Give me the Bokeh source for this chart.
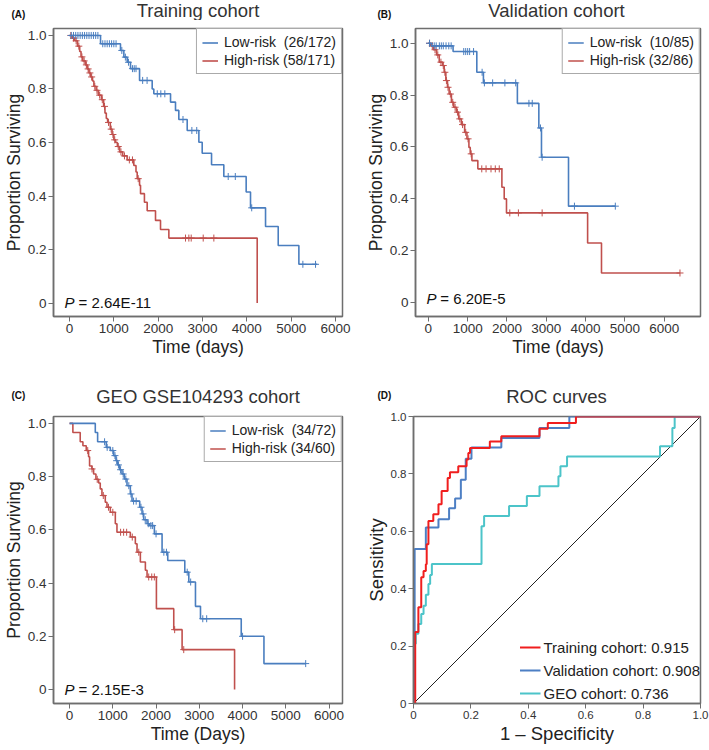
import numpy as np
from bokeh.plotting import figure
from bokeh.layouts import column, row
from bokeh.models import Label, Legend, LegendItem, FixedTicker, Range1d
from bokeh.embed import file_html
from bokeh.resources import INLINE

FONT = "Liberation Sans"
BLUE = "#4a7ebf"
RED = "#c0504d"

# ---------------- data ----------------
x_ticks_days = [0, 1000, 2000, 3000, 4000, 5000, 6000]
y_ticks = [0, 0.2, 0.4, 0.6, 0.8, 1.0]

# Panel A - Training cohort
t_A_low = [0, 700, 1150, 1226, 1301, 1376, 1580, 1865, 1902, 2279, 2391, 2466, 2655,
           2918, 2993, 3204, 3481, 3985, 4083, 4422, 4708, 5174, 5588]
s_A_low = [1.0, 0.969, 0.944, 0.919, 0.90, 0.876, 0.832, 0.80, 0.782, 0.751, 0.72, 0.686,
           0.645, 0.601, 0.56, 0.517, 0.473, 0.415, 0.356, 0.286, 0.215, 0.145, 0.145]
c_A_low = [40, 90, 140, 190, 240, 290, 340, 390, 440, 490, 540, 590, 640, 750, 800, 850, 900,
           950, 1000, 1050, 1180, 1260, 1330, 1420, 1460, 1500, 1650, 1750, 1980, 2060, 2150,
           2560, 2760, 2870, 3580, 3740, 4110, 5264, 5550]
t_A_high = [0, 60, 120, 180, 230, 260, 300, 360, 400, 440, 480, 520, 550, 600, 650, 720, 770,
            800, 830, 860, 920, 960, 1000, 1040, 1080, 1130, 1200, 1300, 1451, 1500, 1527,
            1580, 1602, 1690, 1752, 1940, 2053, 2241, 4234]
s_A_high = [1.0, 0.99, 0.98, 0.96, 0.94, 0.92, 0.905, 0.89, 0.875, 0.86, 0.845, 0.83, 0.81,
            0.795, 0.777, 0.76, 0.735, 0.71, 0.69, 0.675, 0.65, 0.63, 0.61, 0.60, 0.585, 0.565,
            0.55, 0.535, 0.514, 0.49, 0.465, 0.44, 0.409, 0.377, 0.345, 0.309, 0.275, 0.243, 0.0]
c_A_high = [30, 90, 150, 210, 280, 330, 380, 420, 460, 500, 570, 620, 680, 740, 790, 880, 940,
            980, 1020, 1100, 1160, 1240, 1350, 1420, 1550, 2617, 2692, 2745, 3016, 3256]

# Panel B - Validation cohort
t_B_low = [0, 80, 629, 1233, 1401, 2265, 2811, 2878, 3566, 4757]
s_B_low = [1.0, 0.99, 0.968, 0.888, 0.847, 0.768, 0.673, 0.56, 0.371, 0.371]
c_B_low = [30, 150, 200, 280, 330, 380, 450, 520, 580, 900, 950, 1000, 1050, 1150, 1368,
           1426, 1636, 1947, 2223, 2559, 2643, 2853, 2895, 3717, 4757]
t_B_high = [0, 60, 130, 210, 277, 361, 403, 445, 487, 529, 587, 646, 713, 772, 839, 923, 982,
            1032, 1066, 1108, 1259, 1871, 1930, 1988, 4052, 4405, 6402]
s_B_high = [1.0, 0.99, 0.975, 0.955, 0.927, 0.914, 0.888, 0.856, 0.83, 0.804, 0.772, 0.753,
            0.734, 0.708, 0.686, 0.656, 0.631, 0.598, 0.573, 0.547, 0.515, 0.444, 0.399, 0.345,
            0.229, 0.113, 0.113]
c_B_high = [30, 100, 170, 240, 320, 380, 420, 460, 500, 560, 620, 680, 740, 800, 870, 950,
            1010, 1090, 1359, 1468, 1594, 1703, 1804, 2072, 2291, 2895, 6402]

# Panel C - GEO GSE104293 cohort
t_C_low = [0, 595, 649, 849, 942, 1019, 1073, 1112, 1158, 1212, 1266, 1328, 1405, 1444, 1622,
           1676, 1714, 1792, 1846, 1961, 2139, 2270, 2664, 2757, 2911, 3027, 3969, 4494, 5459]
s_C_low = [1.0, 0.966, 0.931, 0.91, 0.898, 0.879, 0.86, 0.844, 0.826, 0.81, 0.791, 0.766,
           0.735, 0.708, 0.685, 0.66, 0.638, 0.623, 0.616, 0.585, 0.516, 0.485, 0.441, 0.404,
           0.3125, 0.266, 0.2, 0.0975, 0.0975]
c_C_low = [810, 870, 1000, 1050, 1090, 1130, 1180, 1240, 1300, 1370, 1420, 1480, 1540, 1650,
           1700, 1750, 1820, 1880, 1920, 2000, 2180, 2240, 2720, 2800, 3080, 3170, 4000, 5459]
t_C_high = [0, 77, 247, 309, 386, 440, 463, 517, 556, 610, 672, 710, 749, 826, 865, 942, 1058,
            1096, 1405, 1521, 1560, 1637, 1753, 1792, 2008, 2409, 2602, 3815]
s_C_high = [1.0, 0.966, 0.931, 0.916, 0.898, 0.875, 0.84, 0.829, 0.81, 0.79, 0.776, 0.754,
            0.729, 0.704, 0.685, 0.666, 0.623, 0.591, 0.573, 0.548, 0.516, 0.479, 0.448, 0.423,
            0.304, 0.225, 0.15, 0.0]
c_C_high = [420, 520, 640, 780, 900, 1000, 1180, 1250, 1320, 1450, 1600, 1830, 1900, 1960,
            2430, 2640]

# Panel D - ROC curves
roc_ticks = [0, 0.2, 0.4, 0.6, 0.8, 1.0]
fpr_train = [0, 0.006, 0.017, 0.027, 0.035, 0.043, 0.046, 0.052, 0.069, 0.087, 0.098, 0.119,
             0.127, 0.156, 0.185, 0.191, 0.197, 0.266, 0.306, 0.439, 0.468, 0.566, 1.0]
tpr_train = [0, 0.249, 0.335, 0.44, 0.462, 0.485, 0.555, 0.636, 0.659, 0.694, 0.74, 0.786,
             0.806, 0.827, 0.85, 0.873, 0.89, 0.913, 0.931, 0.957, 0.977, 1.0, 1.0]
fpr_valid = [0, 0.002, 0.004, 0.043, 0.087, 0.124, 0.145, 0.165, 0.182, 0.202, 0.306, 0.439,
             0.543, 1.0]
tpr_valid = [0, 0.21, 0.538, 0.613, 0.642, 0.68, 0.714, 0.78, 0.853, 0.892, 0.925, 0.96, 1.0,
             1.0]
fpr_geo = [0, 0.002, 0.008, 0.017, 0.027, 0.035, 0.043, 0.052, 0.058, 0.064, 0.237, 0.246,
           0.333, 0.395, 0.439, 0.505, 0.512, 0.535, 0.859, 0.902, 0.91, 1.0]
tpr_geo = [0, 0.208, 0.243, 0.277, 0.312, 0.341, 0.379, 0.416, 0.448, 0.486, 0.618, 0.653,
           0.688, 0.723, 0.757, 0.792, 0.827, 0.861, 0.896, 0.96, 1.0, 1.0]
diag = [0, 1]

titles = ["Training cohort", "Validation cohort", "GEO GSE104293 cohort", "ROC curves"]
tags = ["(A)", "(B)", "(C)", "(D)"]

# ---------------- layout constants (pixels) ----------------
W_LEFT, W_RIGHT = 362, 347
W_ALL = W_LEFT + W_RIGHT
BL_LEFT, BR_LEFT = 53, 20
BL_RIGHT, BR_RIGHT = 50, 9
STRIP1_H, STRIP2_H = 20, 42


def style_axes(p, label_size="13.5px", title_size="17.5px"):
    p.xgrid.visible = False
    p.ygrid.visible = False
    p.outline_line_color = "#6e6e6e"
    p.outline_line_width = 1.5
    p.outline_line_alpha = 1
    for ax in (p.xaxis[0], p.yaxis[0]):
        ax.axis_line_color = "#6e6e6e"
        ax.axis_line_width = 1.5
        ax.major_tick_line_color = "#6e6e6e"
        ax.major_tick_line_width = 1
        ax.major_tick_out = 5
        ax.major_tick_in = 0
        ax.minor_tick_line_color = None
        ax.major_label_text_font = FONT
        ax.major_label_text_font_size = label_size
        ax.major_label_text_color = "#333333"
        ax.major_label_standoff = 2
        ax.axis_label_text_font = FONT
        ax.axis_label_text_font_size = title_size
        ax.axis_label_text_font_style = "normal"
        ax.axis_label_text_color = "#222222"
        ax.axis_label_standoff = 1


def title_strip(height, items):
    """Full-width axis-less figure holding panel titles and tags.
    items: (text, x, y_from_top, size, bold, align)"""
    s = figure(width=W_ALL, height=height, x_range=Range1d(0, W_ALL),
               y_range=Range1d(0, height), output_backend="svg", toolbar_location=None,
               tools="", title=None, x_axis_type=None, y_axis_type=None,
               min_border=0, min_border_left=0, min_border_right=0, min_border_top=0,
               min_border_bottom=0)
    s.outline_line_color = None
    s.xgrid.visible = False
    s.ygrid.visible = False
    for text, x, y, size, bold, align in items:
        s.add_layout(Label(x=x, y=height - y, text=text, text_align=align,
                           text_baseline="middle", text_font=FONT, text_font_size=size,
                           text_font_style="bold" if bold else "normal",
                           text_color="#111111" if bold else "#333333"))
    return s


def step_value(t, s, c):
    idx = np.searchsorted(np.array(t), np.array(c), side="right") - 1
    return [s[i] for i in idx]


def km_panel(width, height, bl, br, bt, bb, xr, yr, low, high, lab_low, lab_high, ptext, p_off,
             xlabel):
    fw = width - bl - br
    fh = height - bt - bb
    p = figure(width=width, height=height, x_range=Range1d(*xr), y_range=Range1d(*yr),
               output_backend="svg", toolbar_location=None, tools="", title=None,
               min_border_left=bl, min_border_right=br, min_border_top=bt, min_border_bottom=bb)
    style_axes(p)
    p.xaxis.ticker = FixedTicker(ticks=x_ticks_days)
    p.yaxis.ticker = FixedTicker(ticks=y_ticks)
    p.yaxis.major_label_overrides = {0: "0", 1: "1.0"}
    p.xaxis.axis_label = xlabel
    p.yaxis.axis_label = "Proportion Surviving"

    t_l, s_l, c_l = low
    t_h, s_h, c_h = high
    r_h = p.step(x=t_h, y=s_h, mode="after", line_color=RED, line_width=1.6)
    p.scatter(x=c_h, y=step_value(t_h, s_h, c_h), marker="cross", size=7,
              line_color=RED, line_width=1)
    r_l = p.step(x=t_l, y=s_l, mode="after", line_color=BLUE, line_width=1.6)
    p.scatter(x=c_l, y=step_value(t_l, s_l, c_l), marker="cross", size=7,
              line_color=BLUE, line_width=1)

    legend = Legend(items=[LegendItem(label=lab_low, renderers=[r_l]),
                           LegendItem(label=lab_high, renderers=[r_h])],
                    location="top_right", margin=0, padding=5, spacing=2,
                    label_height=15, glyph_height=15, glyph_width=16, label_standoff=6,
                    label_text_font=FONT, label_text_font_size="14px",
                    label_text_color="#222222", border_line_color="#555555",
                    border_line_width=1, background_fill_color="white",
                    background_fill_alpha=1)
    p.add_layout(legend)

    dx = (xr[1] - xr[0]) / fw
    dy = (yr[1] - yr[0]) / fh
    p.add_layout(Label(x=xr[0] + 11 * dx, y=yr[0] + p_off * dy, text="P", text_align="left",
                       text_baseline="middle", text_font=FONT, text_font_size="15px",
                       text_font_style="italic", text_color="#111111"))
    p.add_layout(Label(x=xr[0] + 25 * dx, y=yr[0] + p_off * dy, text="= " + ptext,
                       text_align="left", text_baseline="middle", text_font=FONT,
                       text_font_size="15px", text_color="#111111"))
    return p


# ---------------- panels ----------------
cxL = BL_LEFT + (W_LEFT - BL_LEFT - BR_LEFT) / 2
cxR = W_LEFT + BL_RIGHT + (W_RIGHT - BL_RIGHT - BR_RIGHT) / 2

strip1 = title_strip(STRIP1_H, [
    (tags[0], 11, 14, "10px", True, "left"),
    (titles[0], cxL, 10, "18.5px", False, "center"),
    (tags[1], W_LEFT + 15, 14, "10px", True, "left"),
    (titles[1], cxR, 10, "18.5px", False, "center"),
])
strip2 = title_strip(STRIP2_H, [
    (tags[2], 11, 27, "10px", True, "left"),
    (titles[2], cxL, 28, "18.5px", False, "center"),
    (tags[3], W_LEFT + 15, 27, "10px", True, "left"),
    (titles[3], cxR, 28, "18.5px", False, "center"),
])

pA = km_panel(W_LEFT, 348, BL_LEFT, BR_LEFT, 8, 52, (-361, 6158), (-0.05, 1.026),
              (t_A_low, s_A_low, c_A_low), (t_A_high, s_A_high, c_A_high),
              "Low-risk  (26/172)", "High-risk (58/171)", "2.64E-11", 14, "Time (days)")
pB = km_panel(W_RIGHT, 348, BL_RIGHT, BR_RIGHT, 8, 52, (-327, 6924), (-0.055, 1.057),
              (t_B_low, s_B_low, c_B_low), (t_B_high, s_B_high, c_B_high),
              "Low-risk  (10/85)", "High-risk (32/86)", "6.20E-5", 18, "Time (days)")
pC = km_panel(W_LEFT, 338, BL_LEFT, BR_LEFT, 6, 45, (-371, 6310), (-0.0525, 1.026),
              (t_C_low, s_C_low, c_C_low), (t_C_high, s_C_high, c_C_high),
              "Low-risk  (34/72)", "High-risk (34/60)", "2.15E-3", 14, "Time (Days)")

# ROC
pD = figure(width=W_RIGHT, height=338, x_range=Range1d(0, 1), y_range=Range1d(0, 1),
            output_backend="svg", toolbar_location=None, tools="", title=None,
            min_border_left=BL_RIGHT, min_border_right=BR_RIGHT, min_border_top=6,
            min_border_bottom=45)
style_axes(pD, label_size="11.5px", title_size="18.5px")
pD.xaxis.ticker = FixedTicker(ticks=roc_ticks)
pD.yaxis.ticker = FixedTicker(ticks=roc_ticks)
pD.xaxis.major_label_overrides = {0: "0", 1: "1.0"}
pD.yaxis.major_label_overrides = {0: "0", 1: "1.0"}
pD.xaxis.axis_label = "1 \u2013 Specificity"
pD.yaxis.axis_label = "Sensitivity"
pD.line(x=diag, y=diag, line_color="#222222", line_width=1)
r_geo = pD.step(x=fpr_geo, y=tpr_geo, mode="after", line_color="#4cc4c9", line_width=2)
r_val = pD.step(x=fpr_valid, y=tpr_valid, mode="after", line_color="#4d7fc4", line_width=2)
r_tr = pD.step(x=fpr_train, y=tpr_train, mode="after", line_color="#f01e1e", line_width=2)
legD = Legend(items=[LegendItem(label="Training cohort: 0.915", renderers=[r_tr]),
                     LegendItem(label="Validation cohort: 0.908", renderers=[r_val]),
                     LegendItem(label="GEO cohort: 0.736", renderers=[r_geo])],
              location="bottom_right", margin=0, padding=4, spacing=3, label_height=20,
              glyph_height=20, glyph_width=21, label_standoff=3, label_text_font=FONT,
              label_text_font_size="15px", label_text_color="#222222",
              border_line_color=None, background_fill_alpha=0)
pD.add_layout(legD)

layout = column(strip1, row(pA, pB), strip2, row(pC, pD))

open("out.html", "w").write(file_html(layout, INLINE))
